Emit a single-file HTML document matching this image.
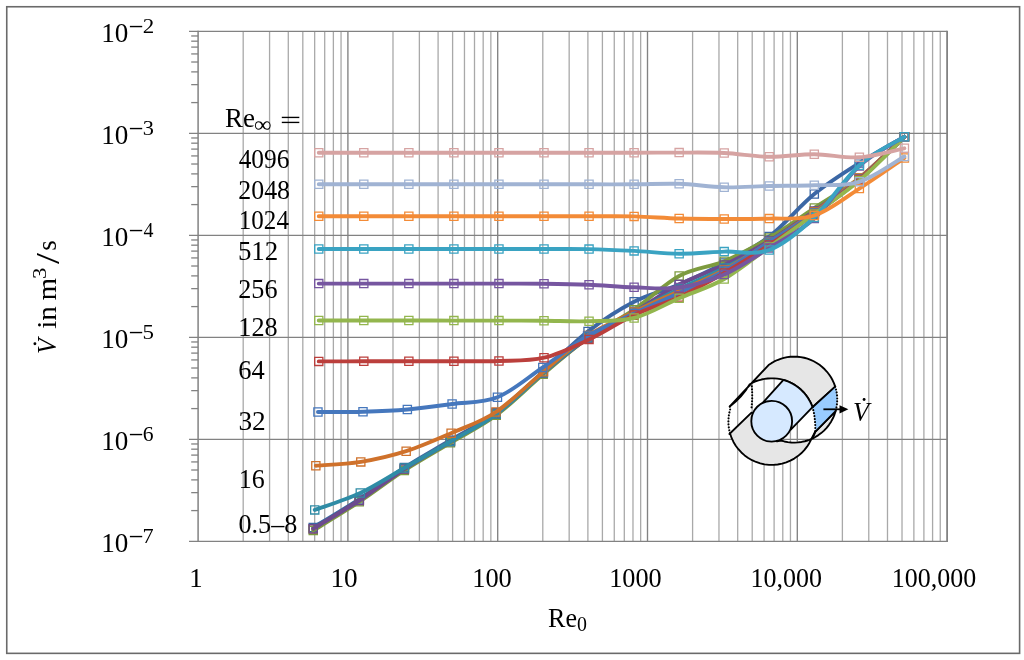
<!DOCTYPE html>
<html><head><meta charset="utf-8"><style>
html,body{margin:0;padding:0;background:#fff;width:1024px;height:660px;overflow:hidden}
svg{display:block}
text{font-family:"Liberation Serif",serif}
</style></head><body>
<div style="will-change:transform"><svg width="1024" height="660" viewBox="0 0 1024 660">
<rect x="0" y="0" width="1024" height="660" fill="#fff"/>
<rect x="6.75" y="6.75" width="1012.85" height="646.6" fill="none" stroke="#6a6a6a" stroke-width="1.6"/>
<line x1="243.19" y1="31.30" x2="243.19" y2="541.30" stroke="#a9a9a9" stroke-width="1.3"/>
<line x1="269.57" y1="31.30" x2="269.57" y2="541.30" stroke="#a9a9a9" stroke-width="1.3"/>
<line x1="288.29" y1="31.30" x2="288.29" y2="541.30" stroke="#a9a9a9" stroke-width="1.3"/>
<line x1="302.81" y1="31.30" x2="302.81" y2="541.30" stroke="#a9a9a9" stroke-width="1.3"/>
<line x1="314.67" y1="31.30" x2="314.67" y2="541.30" stroke="#a9a9a9" stroke-width="1.3"/>
<line x1="324.70" y1="31.30" x2="324.70" y2="541.30" stroke="#a9a9a9" stroke-width="1.3"/>
<line x1="333.38" y1="31.30" x2="333.38" y2="541.30" stroke="#a9a9a9" stroke-width="1.3"/>
<line x1="341.05" y1="31.30" x2="341.05" y2="541.30" stroke="#a9a9a9" stroke-width="1.3"/>
<line x1="392.99" y1="31.30" x2="392.99" y2="541.30" stroke="#a9a9a9" stroke-width="1.3"/>
<line x1="419.37" y1="31.30" x2="419.37" y2="541.30" stroke="#a9a9a9" stroke-width="1.3"/>
<line x1="438.09" y1="31.30" x2="438.09" y2="541.30" stroke="#a9a9a9" stroke-width="1.3"/>
<line x1="452.61" y1="31.30" x2="452.61" y2="541.30" stroke="#a9a9a9" stroke-width="1.3"/>
<line x1="464.47" y1="31.30" x2="464.47" y2="541.30" stroke="#a9a9a9" stroke-width="1.3"/>
<line x1="474.50" y1="31.30" x2="474.50" y2="541.30" stroke="#a9a9a9" stroke-width="1.3"/>
<line x1="483.18" y1="31.30" x2="483.18" y2="541.30" stroke="#a9a9a9" stroke-width="1.3"/>
<line x1="490.85" y1="31.30" x2="490.85" y2="541.30" stroke="#a9a9a9" stroke-width="1.3"/>
<line x1="542.79" y1="31.30" x2="542.79" y2="541.30" stroke="#a9a9a9" stroke-width="1.3"/>
<line x1="569.17" y1="31.30" x2="569.17" y2="541.30" stroke="#a9a9a9" stroke-width="1.3"/>
<line x1="587.89" y1="31.30" x2="587.89" y2="541.30" stroke="#a9a9a9" stroke-width="1.3"/>
<line x1="602.41" y1="31.30" x2="602.41" y2="541.30" stroke="#a9a9a9" stroke-width="1.3"/>
<line x1="614.27" y1="31.30" x2="614.27" y2="541.30" stroke="#a9a9a9" stroke-width="1.3"/>
<line x1="624.30" y1="31.30" x2="624.30" y2="541.30" stroke="#a9a9a9" stroke-width="1.3"/>
<line x1="632.98" y1="31.30" x2="632.98" y2="541.30" stroke="#a9a9a9" stroke-width="1.3"/>
<line x1="640.65" y1="31.30" x2="640.65" y2="541.30" stroke="#a9a9a9" stroke-width="1.3"/>
<line x1="692.59" y1="31.30" x2="692.59" y2="541.30" stroke="#a9a9a9" stroke-width="1.3"/>
<line x1="718.97" y1="31.30" x2="718.97" y2="541.30" stroke="#a9a9a9" stroke-width="1.3"/>
<line x1="737.69" y1="31.30" x2="737.69" y2="541.30" stroke="#a9a9a9" stroke-width="1.3"/>
<line x1="752.21" y1="31.30" x2="752.21" y2="541.30" stroke="#a9a9a9" stroke-width="1.3"/>
<line x1="764.07" y1="31.30" x2="764.07" y2="541.30" stroke="#a9a9a9" stroke-width="1.3"/>
<line x1="774.10" y1="31.30" x2="774.10" y2="541.30" stroke="#a9a9a9" stroke-width="1.3"/>
<line x1="782.78" y1="31.30" x2="782.78" y2="541.30" stroke="#a9a9a9" stroke-width="1.3"/>
<line x1="790.45" y1="31.30" x2="790.45" y2="541.30" stroke="#a9a9a9" stroke-width="1.3"/>
<line x1="842.39" y1="31.30" x2="842.39" y2="541.30" stroke="#a9a9a9" stroke-width="1.3"/>
<line x1="868.77" y1="31.30" x2="868.77" y2="541.30" stroke="#a9a9a9" stroke-width="1.3"/>
<line x1="887.49" y1="31.30" x2="887.49" y2="541.30" stroke="#a9a9a9" stroke-width="1.3"/>
<line x1="902.01" y1="31.30" x2="902.01" y2="541.30" stroke="#a9a9a9" stroke-width="1.3"/>
<line x1="913.87" y1="31.30" x2="913.87" y2="541.30" stroke="#a9a9a9" stroke-width="1.3"/>
<line x1="923.90" y1="31.30" x2="923.90" y2="541.30" stroke="#a9a9a9" stroke-width="1.3"/>
<line x1="932.58" y1="31.30" x2="932.58" y2="541.30" stroke="#a9a9a9" stroke-width="1.3"/>
<line x1="940.25" y1="31.30" x2="940.25" y2="541.30" stroke="#a9a9a9" stroke-width="1.3"/>
<line x1="189" y1="31.30" x2="947.10" y2="31.30" stroke="#828282" stroke-width="1.35"/>
<line x1="189" y1="133.30" x2="947.10" y2="133.30" stroke="#828282" stroke-width="1.35"/>
<line x1="189" y1="235.30" x2="947.10" y2="235.30" stroke="#828282" stroke-width="1.35"/>
<line x1="189" y1="337.30" x2="947.10" y2="337.30" stroke="#828282" stroke-width="1.35"/>
<line x1="189" y1="439.30" x2="947.10" y2="439.30" stroke="#828282" stroke-width="1.35"/>
<line x1="189" y1="541.30" x2="947.10" y2="541.30" stroke="#828282" stroke-width="1.35"/>
<line x1="191.2" y1="102.59" x2="198.10" y2="102.59" stroke="#828282" stroke-width="1.3"/>
<line x1="191.2" y1="84.63" x2="198.10" y2="84.63" stroke="#828282" stroke-width="1.3"/>
<line x1="191.2" y1="71.89" x2="198.10" y2="71.89" stroke="#828282" stroke-width="1.3"/>
<line x1="191.2" y1="62.01" x2="198.10" y2="62.01" stroke="#828282" stroke-width="1.3"/>
<line x1="191.2" y1="53.93" x2="198.10" y2="53.93" stroke="#828282" stroke-width="1.3"/>
<line x1="191.2" y1="47.10" x2="198.10" y2="47.10" stroke="#828282" stroke-width="1.3"/>
<line x1="191.2" y1="41.18" x2="198.10" y2="41.18" stroke="#828282" stroke-width="1.3"/>
<line x1="191.2" y1="35.97" x2="198.10" y2="35.97" stroke="#828282" stroke-width="1.3"/>
<line x1="191.2" y1="204.59" x2="198.10" y2="204.59" stroke="#828282" stroke-width="1.3"/>
<line x1="191.2" y1="186.63" x2="198.10" y2="186.63" stroke="#828282" stroke-width="1.3"/>
<line x1="191.2" y1="173.89" x2="198.10" y2="173.89" stroke="#828282" stroke-width="1.3"/>
<line x1="191.2" y1="164.01" x2="198.10" y2="164.01" stroke="#828282" stroke-width="1.3"/>
<line x1="191.2" y1="155.93" x2="198.10" y2="155.93" stroke="#828282" stroke-width="1.3"/>
<line x1="191.2" y1="149.10" x2="198.10" y2="149.10" stroke="#828282" stroke-width="1.3"/>
<line x1="191.2" y1="143.18" x2="198.10" y2="143.18" stroke="#828282" stroke-width="1.3"/>
<line x1="191.2" y1="137.97" x2="198.10" y2="137.97" stroke="#828282" stroke-width="1.3"/>
<line x1="191.2" y1="306.59" x2="198.10" y2="306.59" stroke="#828282" stroke-width="1.3"/>
<line x1="191.2" y1="288.63" x2="198.10" y2="288.63" stroke="#828282" stroke-width="1.3"/>
<line x1="191.2" y1="275.89" x2="198.10" y2="275.89" stroke="#828282" stroke-width="1.3"/>
<line x1="191.2" y1="266.01" x2="198.10" y2="266.01" stroke="#828282" stroke-width="1.3"/>
<line x1="191.2" y1="257.93" x2="198.10" y2="257.93" stroke="#828282" stroke-width="1.3"/>
<line x1="191.2" y1="251.10" x2="198.10" y2="251.10" stroke="#828282" stroke-width="1.3"/>
<line x1="191.2" y1="245.18" x2="198.10" y2="245.18" stroke="#828282" stroke-width="1.3"/>
<line x1="191.2" y1="239.97" x2="198.10" y2="239.97" stroke="#828282" stroke-width="1.3"/>
<line x1="191.2" y1="408.59" x2="198.10" y2="408.59" stroke="#828282" stroke-width="1.3"/>
<line x1="191.2" y1="390.63" x2="198.10" y2="390.63" stroke="#828282" stroke-width="1.3"/>
<line x1="191.2" y1="377.89" x2="198.10" y2="377.89" stroke="#828282" stroke-width="1.3"/>
<line x1="191.2" y1="368.01" x2="198.10" y2="368.01" stroke="#828282" stroke-width="1.3"/>
<line x1="191.2" y1="359.93" x2="198.10" y2="359.93" stroke="#828282" stroke-width="1.3"/>
<line x1="191.2" y1="353.10" x2="198.10" y2="353.10" stroke="#828282" stroke-width="1.3"/>
<line x1="191.2" y1="347.18" x2="198.10" y2="347.18" stroke="#828282" stroke-width="1.3"/>
<line x1="191.2" y1="341.97" x2="198.10" y2="341.97" stroke="#828282" stroke-width="1.3"/>
<line x1="191.2" y1="510.59" x2="198.10" y2="510.59" stroke="#828282" stroke-width="1.3"/>
<line x1="191.2" y1="492.63" x2="198.10" y2="492.63" stroke="#828282" stroke-width="1.3"/>
<line x1="191.2" y1="479.89" x2="198.10" y2="479.89" stroke="#828282" stroke-width="1.3"/>
<line x1="191.2" y1="470.01" x2="198.10" y2="470.01" stroke="#828282" stroke-width="1.3"/>
<line x1="191.2" y1="461.93" x2="198.10" y2="461.93" stroke="#828282" stroke-width="1.3"/>
<line x1="191.2" y1="455.10" x2="198.10" y2="455.10" stroke="#828282" stroke-width="1.3"/>
<line x1="191.2" y1="449.18" x2="198.10" y2="449.18" stroke="#828282" stroke-width="1.3"/>
<line x1="191.2" y1="443.97" x2="198.10" y2="443.97" stroke="#828282" stroke-width="1.3"/>
<line x1="347.90" y1="31.30" x2="347.90" y2="541.30" stroke="#828282" stroke-width="1.35"/>
<line x1="497.70" y1="31.30" x2="497.70" y2="541.30" stroke="#828282" stroke-width="1.35"/>
<line x1="647.50" y1="31.30" x2="647.50" y2="541.30" stroke="#828282" stroke-width="1.35"/>
<line x1="797.30" y1="31.30" x2="797.30" y2="541.30" stroke="#828282" stroke-width="1.35"/>
<line x1="198.10" y1="30.70" x2="198.10" y2="541.90" stroke="#828282" stroke-width="1.5"/>
<line x1="947.10" y1="30.70" x2="947.10" y2="541.90" stroke="#828282" stroke-width="1.8"/>
<rect x="129.9" y="25.85" width="12.3" height="1.4" fill="#000"/>
<rect x="129.9" y="127.85" width="12.3" height="1.4" fill="#000"/>
<rect x="129.9" y="229.85" width="12.3" height="1.4" fill="#000"/>
<rect x="129.9" y="331.85" width="12.3" height="1.4" fill="#000"/>
<rect x="129.9" y="433.85" width="12.3" height="1.4" fill="#000"/>
<rect x="129.9" y="535.85" width="12.3" height="1.4" fill="#000"/>
<rect x="281.8" y="116.75" width="17.5" height="1.35" fill="#000"/><rect x="281.8" y="121.75" width="17.5" height="1.35" fill="#000"/>
<circle cx="34.9" cy="343.8" r="1.45" fill="#000"/>
<circle cx="864.1" cy="399.5" r="1.45" fill="#000"/>
<text transform="translate(101.22,41.90) scale(1.0128,1)" font-size="26.8" >10</text>
<text transform="translate(142.78,32.50) scale(1.1152,1)" font-size="20.6" >2</text>
<text transform="translate(101.22,143.90) scale(1.0128,1)" font-size="26.8" >10</text>
<text transform="translate(142.82,134.50) scale(1.0824,1)" font-size="20.6" >3</text>
<text transform="translate(101.22,245.90) scale(1.0128,1)" font-size="26.8" >10</text>
<text transform="translate(143.42,236.50) scale(0.9684,1)" font-size="20.6" >4</text>
<text transform="translate(101.22,347.90) scale(1.0128,1)" font-size="26.8" >10</text>
<text transform="translate(142.51,338.50) scale(1.1152,1)" font-size="20.6" >5</text>
<text transform="translate(101.22,449.90) scale(1.0128,1)" font-size="26.8" >10</text>
<text transform="translate(142.85,440.50) scale(1.0514,1)" font-size="20.6" >6</text>
<text transform="translate(101.22,551.90) scale(1.0128,1)" font-size="26.8" >10</text>
<text transform="translate(142.55,542.50) scale(1.0824,1)" font-size="20.6" >7</text>
<text transform="translate(189.15,586.90) scale(1.0000,1)" font-size="26.8" >1</text>
<text transform="translate(330.41,586.90) scale(1.0170,1)" font-size="26.8" >10</text>
<text transform="translate(472.18,586.90) scale(0.9865,1)" font-size="26.8" >100</text>
<text transform="translate(609.19,586.90) scale(0.9811,1)" font-size="26.8" >1000</text>
<text transform="translate(750.62,586.90) scale(0.9702,1)" font-size="26.8" >10,000</text>
<text transform="translate(891.82,586.90) scale(0.9696,1)" font-size="26.8" >100,000</text>
<text transform="translate(225.05,127.00) scale(0.9982,1)" font-size="27.0" >Re</text>
<text transform="translate(254.08,131.60) scale(1.0966,1)" font-size="22.5" >&#8734;</text>
<text transform="translate(238.63,167.90) scale(0.9474,1)" font-size="26.8" >4096</text>
<text transform="translate(238.29,198.50) scale(0.9659,1)" font-size="26.8" >2048</text>
<text transform="translate(238.80,228.60) scale(0.9353,1)" font-size="26.8" >1024</text>
<text transform="translate(237.89,260.20) scale(1.0040,1)" font-size="26.8" >512</text>
<text transform="translate(238.18,298.00) scale(0.9778,1)" font-size="26.8" >256</text>
<text transform="translate(238.30,336.20) scale(0.9784,1)" font-size="26.8" >128</text>
<text transform="translate(238.26,378.50) scale(0.9880,1)" font-size="26.8" >64</text>
<text transform="translate(238.42,429.90) scale(1.0208,1)" font-size="26.8" >32</text>
<text transform="translate(238.82,487.60) scale(0.9684,1)" font-size="26.8" >16</text>
<text transform="translate(238.52,532.50) scale(0.9751,1)" font-size="26.8" >0.5&#8211;8</text>
<text transform="translate(548.03,626.60) scale(0.9646,1)" font-size="27.0" >Re</text>
<text transform="translate(577.08,631.00) scale(0.9657,1)" font-size="20.6" >0</text>
<text transform="translate(55.70,354.03) rotate(-90) scale(0.9565,1.0)" font-size="26.5" font-style="italic" >V</text>
<text transform="translate(55.80,328.85) rotate(-90) scale(1.0987,1.0)" font-size="26.5" >in</text>
<text transform="translate(55.80,300.24) rotate(-90) scale(1.0835,1.0)" font-size="26.5" >m</text>
<text transform="translate(46.20,279.07) rotate(-90) scale(1.1750,1.0)" font-size="19.5" >3</text>
<text transform="translate(58.70,264.00) rotate(-90) scale(1.4897,1.25)" font-size="26.5" >/</text>
<text transform="translate(55.70,250.82) rotate(-90) scale(1.0182,1.0)" font-size="26.5" >s</text>
<text transform="translate(853.06,421.00) scale(0.9611,1)" font-size="27.5" font-style="italic" >V</text>
<path d="M309.15,523.50h8.2v8.2h-8.2zM355.20,495.00h8.2v8.2h-8.2zM400.25,463.50h8.2v8.2h-8.2zM446.30,436.10h8.2v8.2h-8.2zM492.15,408.70h8.2v8.2h-8.2zM539.10,367.90h8.2v8.2h-8.2zM583.95,327.30h8.2v8.2h-8.2zM630.00,297.70h8.2v8.2h-8.2zM675.05,280.40h8.2v8.2h-8.2zM720.10,258.90h8.2v8.2h-8.2zM765.15,232.40h8.2v8.2h-8.2zM810.20,189.90h8.2v8.2h-8.2zM855.25,158.90h8.2v8.2h-8.2zM900.30,132.70h8.2v8.2h-8.2z" fill="none" stroke="#3b67a5" stroke-width="1.3"/>
<path d="M313.25,527.60 C320.93,522.85 344.12,509.10 359.30,499.10 C374.48,489.10 389.17,477.42 404.35,467.60 C419.53,457.78 435.08,449.33 450.40,440.20 C465.72,431.07 480.78,424.17 496.25,412.80 C511.72,401.43 527.90,385.57 543.20,372.00 C558.50,358.43 572.90,343.10 588.05,331.40 C603.20,319.70 618.92,309.62 634.10,301.80 C649.28,293.98 664.13,290.97 679.15,284.50 C694.17,278.03 709.18,271.00 724.20,263.00 C739.22,255.00 754.23,248.00 769.25,236.50 C784.27,225.00 799.28,206.25 814.30,194.00 C829.32,181.75 844.33,172.53 859.35,163.00 C874.37,153.47 896.89,141.17 904.40,136.80" fill="none" stroke="#3b67a5" stroke-width="3.9" stroke-linecap="round" stroke-linejoin="round"/>
<path d="M309.15,524.90h8.2v8.2h-8.2zM355.20,496.40h8.2v8.2h-8.2zM400.25,464.90h8.2v8.2h-8.2zM446.30,437.40h8.2v8.2h-8.2zM492.15,409.90h8.2v8.2h-8.2zM539.10,368.90h8.2v8.2h-8.2zM583.95,333.90h8.2v8.2h-8.2zM630.00,310.90h8.2v8.2h-8.2zM675.05,287.90h8.2v8.2h-8.2zM720.10,266.90h8.2v8.2h-8.2zM765.15,239.90h8.2v8.2h-8.2zM810.20,207.90h8.2v8.2h-8.2zM855.25,174.90h8.2v8.2h-8.2zM900.30,132.70h8.2v8.2h-8.2z" fill="none" stroke="#93403e" stroke-width="1.3"/>
<path d="M313.25,529.00 C320.93,524.25 344.12,510.50 359.30,500.50 C374.48,490.50 389.17,478.83 404.35,469.00 C419.53,459.17 435.08,450.67 450.40,441.50 C465.72,432.33 480.78,425.42 496.25,414.00 C511.72,402.58 527.90,385.67 543.20,373.00 C558.50,360.33 572.90,347.67 588.05,338.00 C603.20,328.33 618.92,322.67 634.10,315.00 C649.28,307.33 664.13,299.33 679.15,292.00 C694.17,284.67 709.18,279.00 724.20,271.00 C739.22,263.00 754.23,253.83 769.25,244.00 C784.27,234.17 799.28,222.83 814.30,212.00 C829.32,201.17 844.33,191.53 859.35,179.00 C874.37,166.47 896.89,143.83 904.40,136.80" fill="none" stroke="#93403e" stroke-width="3.9" stroke-linecap="round" stroke-linejoin="round"/>
<path d="M309.15,526.30h8.2v8.2h-8.2zM355.20,497.70h8.2v8.2h-8.2zM400.25,466.30h8.2v8.2h-8.2zM446.30,438.70h8.2v8.2h-8.2zM492.15,411.10h8.2v8.2h-8.2zM539.10,370.10h8.2v8.2h-8.2zM583.95,333.90h8.2v8.2h-8.2zM630.00,305.60h8.2v8.2h-8.2zM675.05,271.90h8.2v8.2h-8.2zM720.10,257.10h8.2v8.2h-8.2zM765.15,233.90h8.2v8.2h-8.2zM810.20,203.90h8.2v8.2h-8.2zM855.25,173.90h8.2v8.2h-8.2zM900.30,132.70h8.2v8.2h-8.2z" fill="none" stroke="#7d9b3f" stroke-width="1.3"/>
<path d="M313.25,530.40 C320.93,525.63 344.12,511.80 359.30,501.80 C374.48,491.80 389.17,480.23 404.35,470.40 C419.53,460.57 435.08,452.00 450.40,442.80 C465.72,433.60 480.78,426.63 496.25,415.20 C511.72,403.77 527.90,387.07 543.20,374.20 C558.50,361.33 572.90,348.75 588.05,338.00 C603.20,327.25 618.92,320.03 634.10,309.70 C649.28,299.37 664.13,284.08 679.15,276.00 C694.17,267.92 709.18,267.53 724.20,261.20 C739.22,254.87 754.23,246.87 769.25,238.00 C784.27,229.13 799.28,218.00 814.30,208.00 C829.32,198.00 844.33,189.87 859.35,178.00 C874.37,166.13 896.89,143.67 904.40,136.80" fill="none" stroke="#7d9b3f" stroke-width="3.9" stroke-linecap="round" stroke-linejoin="round"/>
<path d="M309.15,524.70h8.2v8.2h-8.2zM355.20,496.40h8.2v8.2h-8.2zM400.25,464.90h8.2v8.2h-8.2zM446.30,437.40h8.2v8.2h-8.2zM492.15,409.90h8.2v8.2h-8.2zM539.10,368.90h8.2v8.2h-8.2zM583.95,333.90h8.2v8.2h-8.2zM630.00,307.90h8.2v8.2h-8.2zM675.05,280.40h8.2v8.2h-8.2zM720.10,260.90h8.2v8.2h-8.2zM765.15,236.90h8.2v8.2h-8.2zM810.20,206.90h8.2v8.2h-8.2zM855.25,174.90h8.2v8.2h-8.2zM900.30,132.70h8.2v8.2h-8.2z" fill="none" stroke="#6c4a8f" stroke-width="1.3"/>
<path d="M313.25,528.80 C320.93,524.08 344.12,510.47 359.30,500.50 C374.48,490.53 389.17,478.83 404.35,469.00 C419.53,459.17 435.08,450.67 450.40,441.50 C465.72,432.33 480.78,425.42 496.25,414.00 C511.72,402.58 527.90,385.67 543.20,373.00 C558.50,360.33 572.90,348.17 588.05,338.00 C603.20,327.83 618.92,320.92 634.10,312.00 C649.28,303.08 664.13,292.33 679.15,284.50 C694.17,276.67 709.18,272.25 724.20,265.00 C739.22,257.75 754.23,250.00 769.25,241.00 C784.27,232.00 799.28,221.33 814.30,211.00 C829.32,200.67 844.33,191.37 859.35,179.00 C874.37,166.63 896.89,143.83 904.40,136.80" fill="none" stroke="#6c4a8f" stroke-width="3.9" stroke-linecap="round" stroke-linejoin="round"/>
<path d="M310.65,505.80h8.2v8.2h-8.2zM356.20,488.90h8.2v8.2h-8.2zM400.25,463.90h8.2v8.2h-8.2zM446.30,437.40h8.2v8.2h-8.2zM492.15,410.00h8.2v8.2h-8.2zM539.30,368.60h8.2v8.2h-8.2zM584.45,332.90h8.2v8.2h-8.2zM630.00,307.90h8.2v8.2h-8.2zM675.05,284.90h8.2v8.2h-8.2zM720.10,263.90h8.2v8.2h-8.2zM765.15,239.90h8.2v8.2h-8.2zM810.20,209.90h8.2v8.2h-8.2zM855.25,175.40h8.2v8.2h-8.2zM900.30,132.70h8.2v8.2h-8.2z" fill="none" stroke="#2f8ca6" stroke-width="1.3"/>
<path d="M314.75,509.90 C322.34,507.08 345.37,499.98 360.30,493.00 C375.23,486.02 389.33,476.58 404.35,468.00 C419.37,459.42 435.08,450.48 450.40,441.50 C465.72,432.52 480.75,425.57 496.25,414.10 C511.75,402.63 528.02,385.55 543.40,372.70 C558.78,359.85 573.43,347.12 588.55,337.00 C603.67,326.88 619.00,320.00 634.10,312.00 C649.20,304.00 664.13,296.33 679.15,289.00 C694.17,281.67 709.18,275.50 724.20,268.00 C739.22,260.50 754.23,253.00 769.25,244.00 C784.27,235.00 799.28,224.75 814.30,214.00 C829.32,203.25 844.33,192.37 859.35,179.50 C874.37,166.63 896.89,143.92 904.40,136.80" fill="none" stroke="#2f8ca6" stroke-width="3.9" stroke-linecap="round" stroke-linejoin="round"/>
<path d="M311.75,461.60h8.2v8.2h-8.2zM356.70,457.80h8.2v8.2h-8.2zM402.05,447.10h8.2v8.2h-8.2zM447.00,429.10h8.2v8.2h-8.2zM491.85,407.90h8.2v8.2h-8.2zM539.40,367.60h8.2v8.2h-8.2zM583.95,331.40h8.2v8.2h-8.2zM630.00,307.90h8.2v8.2h-8.2zM675.05,286.90h8.2v8.2h-8.2zM720.10,265.90h8.2v8.2h-8.2zM765.15,237.90h8.2v8.2h-8.2zM810.20,207.90h8.2v8.2h-8.2zM855.25,173.90h8.2v8.2h-8.2zM900.30,132.70h8.2v8.2h-8.2z" fill="none" stroke="#cf712b" stroke-width="1.3"/>
<path d="M315.85,465.70 C323.34,465.07 345.75,464.32 360.80,461.90 C375.85,459.48 391.10,455.98 406.15,451.20 C421.20,446.42 436.13,439.73 451.10,433.20 C466.07,426.67 480.55,422.25 495.95,412.00 C511.35,401.75 528.15,384.45 543.50,371.70 C558.85,358.95 572.95,345.45 588.05,335.50 C603.15,325.55 618.92,319.42 634.10,312.00 C649.28,304.58 664.13,298.00 679.15,291.00 C694.17,284.00 709.18,278.17 724.20,270.00 C739.22,261.83 754.23,251.67 769.25,242.00 C784.27,232.33 799.28,222.67 814.30,212.00 C829.32,201.33 844.33,190.53 859.35,178.00 C874.37,165.47 896.89,143.67 904.40,136.80" fill="none" stroke="#cf712b" stroke-width="3.9" stroke-linecap="round" stroke-linejoin="round"/>
<path d="M313.85,407.90h8.2v8.2h-8.2zM358.90,407.60h8.2v8.2h-8.2zM403.25,405.40h8.2v8.2h-8.2zM448.00,399.90h8.2v8.2h-8.2zM493.35,393.20h8.2v8.2h-8.2zM538.70,363.30h8.2v8.2h-8.2zM583.45,331.90h8.2v8.2h-8.2zM630.00,309.40h8.2v8.2h-8.2zM675.05,288.90h8.2v8.2h-8.2zM720.10,266.90h8.2v8.2h-8.2zM765.15,237.90h8.2v8.2h-8.2zM810.20,208.90h8.2v8.2h-8.2zM855.25,174.90h8.2v8.2h-8.2zM900.30,132.70h8.2v8.2h-8.2z" fill="none" stroke="#4577bd" stroke-width="1.3"/>
<path d="M317.95,412.00 C325.46,411.95 348.10,412.12 363.00,411.70 C377.90,411.28 392.50,410.78 407.35,409.50 C422.20,408.22 437.08,406.03 452.10,404.00 C467.12,401.97 482.33,403.40 497.45,397.30 C512.57,391.20 527.78,377.62 542.80,367.40 C557.82,357.18 572.33,344.98 587.55,336.00 C602.77,327.02 618.83,320.67 634.10,313.50 C649.37,306.33 664.13,300.08 679.15,293.00 C694.17,285.92 709.18,279.50 724.20,271.00 C739.22,262.50 754.23,251.67 769.25,242.00 C784.27,232.33 799.28,223.50 814.30,213.00 C829.32,202.50 844.33,191.70 859.35,179.00 C874.37,166.30 896.89,143.83 904.40,136.80" fill="none" stroke="#4577bd" stroke-width="3.9" stroke-linecap="round" stroke-linejoin="round"/>
<path d="M314.65,357.30h8.2v8.2h-8.2zM359.70,357.20h8.2v8.2h-8.2zM404.75,357.10h8.2v8.2h-8.2zM449.80,357.10h8.2v8.2h-8.2zM494.85,356.90h8.2v8.2h-8.2zM539.90,353.60h8.2v8.2h-8.2zM584.95,335.40h8.2v8.2h-8.2zM630.00,310.90h8.2v8.2h-8.2zM675.05,292.90h8.2v8.2h-8.2zM720.10,268.90h8.2v8.2h-8.2zM765.15,240.90h8.2v8.2h-8.2zM810.20,209.90h8.2v8.2h-8.2zM855.25,175.40h8.2v8.2h-8.2zM900.30,132.70h8.2v8.2h-8.2z" fill="none" stroke="#bb3f3c" stroke-width="1.3"/>
<path d="M318.75,361.40 C326.26,361.38 348.78,361.33 363.80,361.30 C378.82,361.27 393.83,361.22 408.85,361.20 C423.87,361.18 438.88,361.23 453.90,361.20 C468.92,361.17 483.93,361.58 498.95,361.00 C513.97,360.42 528.98,361.28 544.00,357.70 C559.02,354.12 574.03,346.62 589.05,339.50 C604.07,332.38 619.08,322.08 634.10,315.00 C649.12,307.92 664.13,304.00 679.15,297.00 C694.17,290.00 709.18,281.67 724.20,273.00 C739.22,264.33 754.23,254.83 769.25,245.00 C784.27,235.17 799.28,224.92 814.30,214.00 C829.32,203.08 844.33,192.37 859.35,179.50 C874.37,166.63 896.89,143.92 904.40,136.80" fill="none" stroke="#bb3f3c" stroke-width="3.9" stroke-linecap="round" stroke-linejoin="round"/>
<path d="M314.65,316.40h8.2v8.2h-8.2zM359.70,316.40h8.2v8.2h-8.2zM404.75,316.40h8.2v8.2h-8.2zM449.80,316.50h8.2v8.2h-8.2zM494.85,316.50h8.2v8.2h-8.2zM539.90,316.70h8.2v8.2h-8.2zM584.95,317.10h8.2v8.2h-8.2zM630.00,313.90h8.2v8.2h-8.2zM675.05,294.20h8.2v8.2h-8.2zM720.10,274.90h8.2v8.2h-8.2zM765.15,242.90h8.2v8.2h-8.2zM810.20,209.90h8.2v8.2h-8.2zM855.25,176.40h8.2v8.2h-8.2zM900.30,132.70h8.2v8.2h-8.2z" fill="none" stroke="#93b64e" stroke-width="1.3"/>
<path d="M318.75,320.50 C326.26,320.50 348.78,320.50 363.80,320.50 C378.82,320.50 393.83,320.48 408.85,320.50 C423.87,320.52 438.88,320.58 453.90,320.60 C468.92,320.62 483.93,320.57 498.95,320.60 C513.97,320.63 528.98,320.70 544.00,320.80 C559.02,320.90 574.03,321.67 589.05,321.20 C604.07,320.73 619.08,321.82 634.10,318.00 C649.12,314.18 664.13,304.80 679.15,298.30 C694.17,291.80 709.18,287.55 724.20,279.00 C739.22,270.45 754.23,257.83 769.25,247.00 C784.27,236.17 799.28,225.08 814.30,214.00 C829.32,202.92 844.33,193.37 859.35,180.50 C874.37,167.63 896.89,144.08 904.40,136.80" fill="none" stroke="#93b64e" stroke-width="3.9" stroke-linecap="round" stroke-linejoin="round"/>
<path d="M314.65,279.50h8.2v8.2h-8.2zM359.70,279.50h8.2v8.2h-8.2zM404.75,279.50h8.2v8.2h-8.2zM449.80,279.50h8.2v8.2h-8.2zM494.85,279.50h8.2v8.2h-8.2zM539.90,279.60h8.2v8.2h-8.2zM584.95,280.60h8.2v8.2h-8.2zM630.00,283.20h8.2v8.2h-8.2zM675.05,283.40h8.2v8.2h-8.2zM720.10,270.40h8.2v8.2h-8.2zM765.15,243.90h8.2v8.2h-8.2zM810.20,214.40h8.2v8.2h-8.2zM855.25,161.90h8.2v8.2h-8.2zM900.30,132.70h8.2v8.2h-8.2z" fill="none" stroke="#7656a0" stroke-width="1.3"/>
<path d="M318.75,283.60 C326.26,283.60 348.78,283.60 363.80,283.60 C378.82,283.60 393.83,283.60 408.85,283.60 C423.87,283.60 438.88,283.60 453.90,283.60 C468.92,283.60 483.93,283.58 498.95,283.60 C513.97,283.62 528.98,283.52 544.00,283.70 C559.02,283.88 574.03,284.10 589.05,284.70 C604.07,285.30 619.08,286.83 634.10,287.30 C649.12,287.77 664.13,289.63 679.15,287.50 C694.17,285.37 709.18,281.08 724.20,274.50 C739.22,267.92 754.23,257.33 769.25,248.00 C784.27,238.67 799.28,232.17 814.30,218.50 C829.32,204.83 844.33,179.62 859.35,166.00 C874.37,152.38 896.89,141.67 904.40,136.80" fill="none" stroke="#7656a0" stroke-width="3.9" stroke-linecap="round" stroke-linejoin="round"/>
<path d="M314.65,244.90h8.2v8.2h-8.2zM359.70,244.90h8.2v8.2h-8.2zM404.75,244.90h8.2v8.2h-8.2zM449.80,244.90h8.2v8.2h-8.2zM494.85,244.90h8.2v8.2h-8.2zM539.90,244.90h8.2v8.2h-8.2zM584.95,245.00h8.2v8.2h-8.2zM630.00,246.80h8.2v8.2h-8.2zM675.05,249.60h8.2v8.2h-8.2zM720.10,247.50h8.2v8.2h-8.2zM765.15,245.90h8.2v8.2h-8.2zM810.20,213.40h8.2v8.2h-8.2zM855.25,161.10h8.2v8.2h-8.2zM900.30,132.70h8.2v8.2h-8.2z" fill="none" stroke="#3aa3c2" stroke-width="1.3"/>
<path d="M318.75,249.00 C326.26,249.00 348.78,249.00 363.80,249.00 C378.82,249.00 393.83,249.00 408.85,249.00 C423.87,249.00 438.88,249.00 453.90,249.00 C468.92,249.00 483.93,249.00 498.95,249.00 C513.97,249.00 528.98,248.98 544.00,249.00 C559.02,249.02 574.03,248.78 589.05,249.10 C604.07,249.42 619.08,250.13 634.10,250.90 C649.12,251.67 664.13,253.58 679.15,253.70 C694.17,253.82 709.18,252.22 724.20,251.60 C739.22,250.98 754.23,255.68 769.25,250.00 C784.27,244.32 799.28,231.63 814.30,217.50 C829.32,203.37 844.33,178.65 859.35,165.20 C874.37,151.75 896.89,141.53 904.40,136.80" fill="none" stroke="#3aa3c2" stroke-width="3.9" stroke-linecap="round" stroke-linejoin="round"/>
<path d="M314.65,212.10h8.2v8.2h-8.2zM359.70,212.10h8.2v8.2h-8.2zM404.75,212.10h8.2v8.2h-8.2zM449.80,212.10h8.2v8.2h-8.2zM494.85,212.10h8.2v8.2h-8.2zM539.90,212.10h8.2v8.2h-8.2zM584.95,212.20h8.2v8.2h-8.2zM630.00,212.30h8.2v8.2h-8.2zM675.05,214.40h8.2v8.2h-8.2zM720.10,214.90h8.2v8.2h-8.2zM765.15,214.50h8.2v8.2h-8.2zM810.20,211.40h8.2v8.2h-8.2zM855.25,184.50h8.2v8.2h-8.2zM900.30,153.90h8.2v8.2h-8.2z" fill="none" stroke="#f38b37" stroke-width="1.3"/>
<path d="M318.75,216.20 C326.26,216.20 348.78,216.20 363.80,216.20 C378.82,216.20 393.83,216.20 408.85,216.20 C423.87,216.20 438.88,216.20 453.90,216.20 C468.92,216.20 483.93,216.20 498.95,216.20 C513.97,216.20 528.98,216.18 544.00,216.20 C559.02,216.22 574.03,216.27 589.05,216.30 C604.07,216.33 619.08,216.03 634.10,216.40 C649.12,216.77 664.13,218.07 679.15,218.50 C694.17,218.93 709.18,218.98 724.20,219.00 C739.22,219.02 754.23,219.18 769.25,218.60 C784.27,218.02 799.28,220.50 814.30,215.50 C829.32,210.50 844.33,198.18 859.35,188.60 C874.37,179.02 896.89,163.10 904.40,158.00" fill="none" stroke="#f38b37" stroke-width="3.9" stroke-linecap="round" stroke-linejoin="round"/>
<path d="M314.65,180.20h8.2v8.2h-8.2zM359.70,180.20h8.2v8.2h-8.2zM404.75,180.20h8.2v8.2h-8.2zM449.80,180.20h8.2v8.2h-8.2zM494.85,180.20h8.2v8.2h-8.2zM539.90,180.20h8.2v8.2h-8.2zM584.95,180.20h8.2v8.2h-8.2zM630.00,180.20h8.2v8.2h-8.2zM675.05,179.70h8.2v8.2h-8.2zM720.10,183.20h8.2v8.2h-8.2zM765.15,181.90h8.2v8.2h-8.2zM810.20,181.20h8.2v8.2h-8.2zM855.25,177.70h8.2v8.2h-8.2zM900.30,152.40h8.2v8.2h-8.2z" fill="none" stroke="#a0b3d3" stroke-width="1.3"/>
<path d="M318.75,184.30 C326.26,184.30 348.78,184.30 363.80,184.30 C378.82,184.30 393.83,184.30 408.85,184.30 C423.87,184.30 438.88,184.30 453.90,184.30 C468.92,184.30 483.93,184.30 498.95,184.30 C513.97,184.30 528.98,184.30 544.00,184.30 C559.02,184.30 574.03,184.30 589.05,184.30 C604.07,184.30 619.08,184.38 634.10,184.30 C649.12,184.22 664.13,183.30 679.15,183.80 C694.17,184.30 709.18,186.93 724.20,187.30 C739.22,187.67 754.23,186.33 769.25,186.00 C784.27,185.67 799.28,186.00 814.30,185.30 C829.32,184.60 844.33,186.60 859.35,181.80 C874.37,177.00 896.89,160.72 904.40,156.50" fill="none" stroke="#a0b3d3" stroke-width="3.9" stroke-linecap="round" stroke-linejoin="round"/>
<path d="M314.65,148.70h8.2v8.2h-8.2zM359.70,148.70h8.2v8.2h-8.2zM404.75,148.70h8.2v8.2h-8.2zM449.80,148.70h8.2v8.2h-8.2zM494.85,148.70h8.2v8.2h-8.2zM539.90,148.70h8.2v8.2h-8.2zM584.95,148.70h8.2v8.2h-8.2zM630.00,148.70h8.2v8.2h-8.2zM675.05,148.50h8.2v8.2h-8.2zM720.10,148.90h8.2v8.2h-8.2zM765.15,152.70h8.2v8.2h-8.2zM810.20,150.20h8.2v8.2h-8.2zM855.25,153.20h8.2v8.2h-8.2zM900.30,144.20h8.2v8.2h-8.2z" fill="none" stroke="#d6a3a2" stroke-width="1.3"/>
<path d="M318.75,152.80 C326.26,152.80 348.78,152.80 363.80,152.80 C378.82,152.80 393.83,152.80 408.85,152.80 C423.87,152.80 438.88,152.80 453.90,152.80 C468.92,152.80 483.93,152.80 498.95,152.80 C513.97,152.80 528.98,152.80 544.00,152.80 C559.02,152.80 574.03,152.80 589.05,152.80 C604.07,152.80 619.08,152.83 634.10,152.80 C649.12,152.77 664.13,152.57 679.15,152.60 C694.17,152.63 709.18,152.30 724.20,153.00 C739.22,153.70 754.23,156.58 769.25,156.80 C784.27,157.02 799.28,154.22 814.30,154.30 C829.32,154.38 844.33,158.30 859.35,157.30 C874.37,156.30 896.89,149.80 904.40,148.30" fill="none" stroke="#d6a3a2" stroke-width="3.9" stroke-linecap="round" stroke-linejoin="round"/>
<g stroke="#000" stroke-width="1.85" fill="none" stroke-linejoin="round">
<path d="M729.8,406.5 L768.56,365.08 L771.38,363.16 L774.33,361.46 L777.42,360.01 L780.60,358.81 L783.88,357.86 L787.21,357.17 L790.60,356.75 L794.00,356.60 L797.41,356.72 L800.79,357.11 L804.13,357.76 L807.42,358.68 L810.61,359.86 L813.71,361.28 L816.68,362.95 L819.52,364.84 L822.19,366.96 L824.69,369.27 L826.99,371.78 L829.09,374.47 L830.97,377.31 L832.62,380.29 L834.03,383.39 L835.19,386.60 L812.54,407.22 L811.38,404.26 L809.99,401.39 L808.41,398.63 L806.62,396.00 L804.65,393.50 L802.50,391.16 L800.18,388.98 L797.71,386.98 L795.09,385.16 L792.35,383.54 L789.50,382.13 L786.56,380.93 L783.53,379.95 L780.44,379.19 L777.30,378.66 L774.13,378.37 L770.95,378.31 L767.78,378.48 L764.62,378.88 L761.50,379.52 L758.44,380.38 L755.45,381.47 L752.55,382.77 L749.75,384.28 Q742,397.4 729.8,406.5 Z" fill="#e6e6e6"/>
<path d="M729.4,434.0 L751.5,412.7 L771.7,421.2 L777,441.4 L781.08,440.55 L784.40,441.47 L787.78,442.12 L791.21,442.50 L794.66,442.60 L798.10,442.42 L801.52,441.97 L804.89,441.25 L808.19,440.26 L811.40,439.01 L809.39,442.92 L807.02,446.64 L804.30,450.10 L801.23,453.27 L797.86,456.10 L794.22,458.58 L790.34,460.68 L786.27,462.37 L782.05,463.64 L777.73,464.48 L773.34,464.87 L768.93,464.81 L764.56,464.31 L760.25,463.36 L756.07,461.98 L752.04,460.18 L748.22,457.98 L744.65,455.41 L741.35,452.49 L738.37,449.24 L735.73,445.71 L733.47,441.93 L731.60,437.94 L730.15,433.78 Z" fill="#e6e6e6"/>
<path d="M815.2,431.8 L835.61,411.18 L834.42,414.80 L832.92,418.30 L831.11,421.66 L829.01,424.84 L826.64,427.82 L824.02,430.58 L821.16,433.10 L818.08,435.36 L814.83,437.33 L811.40,439.01 Z" fill="#e6e6e6"/>
<path d="M835.19,386.60 L812.54,407.22 Q815.8,419 815.2,431.8 L835.61,411.18 Q839,398 835.19,386.60 Z" fill="#99ccff" stroke="none"/>
<path d="M835.19,386.60 L812.54,407.22 M815.2,431.8 L835.61,411.18 M815.2,431.8 L812.4,439.2"/>
<path d="M760,405.8 L783.46,379.93 L786.75,381.00 L789.93,382.33 L793.00,383.90 L795.94,385.72 L798.72,387.77 L801.33,390.03 L803.75,392.49 L805.97,395.13 L807.97,397.95 L809.74,400.91 L811.27,404.01 L812.54,407.22 L790.8,429.7 L771.7,421.2 Z" fill="#d6e9ff"/>
<circle cx="771.7" cy="421.2" r="20.4" fill="#d6e9ff"/>
<g stroke-dasharray="0.1,2.9" stroke-linecap="round" stroke-width="2.1">
<path d="M729.8,406.5 L730.25,409.08 L729.65,411.28 L729.16,413.50 L728.80,415.75 L728.55,418.01 L728.42,420.29 L728.41,422.56 L728.52,424.84 L728.75,427.10 L729.10,429.35 L729.57,431.58 L730.15,433.78"/>
<path d="M751.8,386.3 Q752.8,397 751.4,409"/>
<path d="M812.54,407.22 Q815.8,419 815.2,431.8"/>
<path d="M835.19,386.60 Q839,398 835.61,411.18"/>
</g>
<path d="M823.4,409.3 L842,409.3" stroke-width="1.8"/>
<path d="M839.5,405.2 L848.4,409.3 L839.5,413.4 Z" fill="#000" stroke="none"/>
</g>

</svg></div>
</body></html>
